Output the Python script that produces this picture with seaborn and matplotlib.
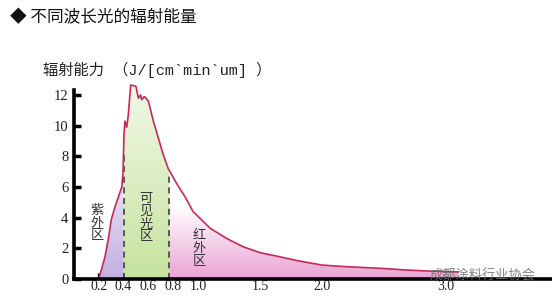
import numpy as np
import pandas as pd
import matplotlib
matplotlib.use("Agg")
import matplotlib.pyplot as plt
import seaborn as sns
from matplotlib.patches import Polygon
from matplotlib.colors import to_rgb

# ---------------- data ----------------
wavelength = [0.20, 0.25, 0.28, 0.30, 0.33, 0.36, 0.385, 0.395, 0.403, 0.411,
              0.425, 0.438, 0.457, 0.49, 0.50, 0.519, 0.538, 0.546, 0.567, 0.58,
              0.60, 0.64, 0.68, 0.72, 0.76, 0.83, 0.90, 0.96, 1.10, 1.23,
              1.365, 1.50, 1.63, 1.80, 2.00, 2.20, 2.47, 2.65, 2.85, 3.10]
energy = [0.0, 1.45, 2.76, 3.85, 4.7, 5.4, 6.0, 6.9, 9.4, 10.3,
          9.9, 10.7, 12.65, 12.6, 12.55, 11.8, 12.0, 11.7, 11.9, 11.8,
          11.6, 10.3, 9.2, 8.1, 7.2, 6.2, 5.3, 4.4, 3.3, 2.65,
          2.1, 1.72, 1.5, 1.2, 0.91, 0.8, 0.7, 0.6, 0.52, 0.46]
xtick_vals = [0.2, 0.4, 0.6, 0.8, 1.0, 1.5, 2.0, 3.0]
xtick_labels = ["0.2", "0.4", "0.6", "0.8", "1.0", "1.5", "2.0", "3.0"]
ytick_vals = [0, 2, 4, 6, 8, 10, 12]
uv_edge = 0.40
ir_edge = 0.77
title_text = "◆ 不同波长光的辐射能量"
ylabel_text = "辐射能力 （J/[cm`min`um] ）"
region_labels = ["紫外区", "可见光区", "红外区"]
watermark = "成都涂料行业协会"

df = pd.DataFrame({"wavelength": wavelength, "energy": energy})

# ---------------- style ----------------
sns.set_theme(style="white")
plt.rcParams['font.family'] = ['Noto Sans CJK SC', 'DejaVu Sans']

W, H = 552, 304
fig = plt.figure(figsize=(W / 100, H / 100), dpi=100)
fig.patch.set_facecolor("white")
x0px, y0px = 74, 279
pxu_x, pxu_y = 124.0, 15.33
xmax = (W - x0px) / pxu_x
ytop = 13.4
ax = fig.add_axes([x0px / W, (H - y0px) / H, (W - x0px) / W, ytop * pxu_y / H])
ax.set_facecolor("white")
ax.set_xlim(0, xmax)
ax.set_ylim(0, ytop)

line_color = "#c8285a"
wl = np.array(wavelength)
en = np.array(energy)


def gradient_fill(xa, xb, bottom_color, y_fade):
    mask = (wl > xa) & (wl < xb)
    xs = np.concatenate([[xa], wl[mask], [xb]])
    ys = np.concatenate([[np.interp(xa, wl, en)], en[mask], [np.interp(xb, wl, en)]])
    verts = [(xa, 0)] + list(zip(xs, ys)) + [(xb, 0)]
    poly = Polygon(verts, closed=True, facecolor="none", edgecolor="none")
    ax.add_patch(poly)
    n = 256
    t = np.linspace(0, 1, n)[:, None]  # 0 bottom -> 1 top
    frac = np.clip(t * ytop / y_fade, 0, 1)
    c = np.array(to_rgb(bottom_color))
    img = (1 - frac)[:, :, None] * c[None, None, :] + frac[:, :, None] * np.ones(3)[None, None, :]
    im = ax.imshow(img, extent=[xa, xb, 0, ytop], origin="lower", aspect="auto",
                   interpolation="bilinear", zorder=1)
    im.set_clip_path(poly)


gradient_fill(wavelength[0], uv_edge, "#c0b0e0", 10.0)
gradient_fill(uv_edge, ir_edge, "#c6e39e", 17.0)
gradient_fill(ir_edge, wavelength[-1], "#e9a4d3", 4.8)

sns.lineplot(data=df, x="wavelength", y="energy", ax=ax, color=line_color,
             linewidth=1.2, zorder=3, sort=False)

# dashed separators
for xe in (uv_edge, ir_edge):
    ax.plot([xe, xe], [0, np.interp(xe, wl, en) - 0.3], color="#333333",
            linestyle=(0, (4, 3)), linewidth=1.1, zorder=2)

# axes styling
for s in ("top", "right"):
    ax.spines[s].set_visible(False)
ax.spines["left"].set_linewidth(2.6)
ax.spines["bottom"].set_linewidth(2.6)
ax.spines["left"].set_color("black")
ax.spines["bottom"].set_color("black")
ax.spines["left"].set_bounds(0, 12.3)
ax.spines["left"].set_zorder(5)
ax.spines["bottom"].set_zorder(5)

ax.set_xticks(xtick_vals)
ax.set_xticklabels(xtick_labels)
ax.set_yticks(ytick_vals)
ax.set_yticklabels([str(v) for v in ytick_vals])
ax.tick_params(axis="y", direction="in", length=5, width=2.5, pad=4, labelsize=10.5, colors="black", left=True)
ax.tick_params(axis="x", direction="in", length=4, width=2.5, pad=1, labelsize=10, colors="black", bottom=True)
for lab in ax.get_xticklabels() + ax.get_yticklabels():
    lab.set_fontfamily("Liberation Serif")
    lab.set_color("#222222")
ax.set_xlabel("")
ax.set_ylabel("")
ax.grid(False)

# texts
fig.text(10 / W, 1 - 18 / H, title_text, fontsize=12, va="center", ha="left", color="#111111")
fig.text(43 / W, 1 - 70 / H, ylabel_text, fontsize=11, va="center", ha="left", color="#222222",
         family=['Liberation Mono', 'Noto Sans CJK SC', 'DejaVu Sans'])

lab_kw = dict(fontsize=9.5, ha="center", va="center", linespacing=0.98, color="#333333", zorder=4)
ax.text(0.185, 3.65, "\n".join(region_labels[0]), **lab_kw)
ax.text(0.58, 4.0, "\n".join(region_labels[1]), **lab_kw)
ax.text(1.01, 2.0, "\n".join(region_labels[2]), **lab_kw)

fig.text(430 / W, 1 - 276 / H, watermark, fontsize=9.5, ha="left", va="center",
         color="#6f6f6f", alpha=0.85, zorder=10)

fig.savefig("out.png", dpi=100, facecolor="white")
